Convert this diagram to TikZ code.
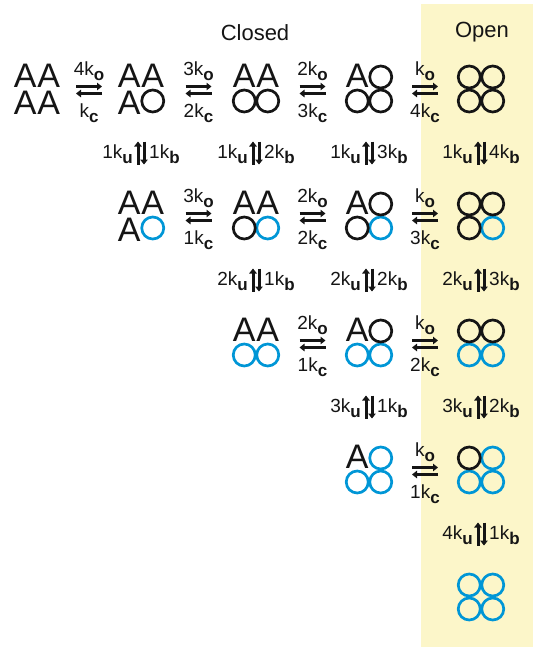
\documentclass[tikz,border=0pt]{standalone}
\usepackage{fontspec}
\setmainfont{Liberation Sans}
\usetikzlibrary{arrows.meta,calc}
\definecolor{Ink}{HTML}{151515}
\definecolor{BoundBlue}{HTML}{0096D6}
\definecolor{OpenPane}{HTML}{FCF6C9}
\newcommand{\rate}[2]{#1k\raisebox{-5pt}{\fontsize{17}{17}\selectfont\bfseries #2}}
\tikzset{
 statebox/.style={minimum width=48pt, minimum height=50pt, inner sep=0pt},
 closedsite/.style={inner sep=0pt, text=Ink, font=\fontsize{34}{34}\selectfont},
 opensite/.style={circle, draw=Ink, line width=2.7pt, minimum size=22pt, inner sep=0pt},
 boundsite/.style={opensite, draw=BoundBlue},
 fwd/.style={-{Triangle[length=5pt,width=7.5pt]}, line width=3pt, draw=Ink},
 ratelabel/.style={inner sep=0pt, text=Ink, font=\fontsize{19}{19}\selectfont},
 title/.style={inner sep=0pt, text=Ink, font=\fontsize{22}{22}\selectfont, anchor=base}
}

\begin{document}
\begin{tikzpicture}[x=1pt,y=-1pt]
\useasboundingbox (0,0) rectangle (533,649);
\fill[OpenPane] (421,4) rectangle (533,647);
\node[title] (closed) at (255,40) {Closed};
\node[title] (open) at (482,37) {Open};
% states: row = bound subunits, column = subunits out of A
\foreach \bnd in {0,...,4}{
 \foreach \col in {\bnd,...,4}{
  \pgfmathsetmacro\colx{{37,141,256,369,481}[\col]}
  \node[statebox] (s\bnd\col) at (\colx,89+127*\bnd) {};
  \foreach \site/\dx/\dy in {0/1/1,1/-1/1,2/1/-1,3/-1/-1}{
   \ifnum\site<\bnd
    \node[boundsite] (s\bnd\col-\site) at ($(s\bnd\col)+(\dx*11.75,\dy*12)$) {};
   \else\ifnum\site<\col
    \node[opensite] (s\bnd\col-\site) at ($(s\bnd\col)+(\dx*11.75,\dy*12)$) {};
   \else
    \node[closedsite] (s\bnd\col-\site) at ($(s\bnd\col)+(\dx*11.75,\dy*13.5)$) {A};
   \fi\fi
  }
 }
}
% opening / closing steps
\foreach \bnd/\col/\fw/\bw in {0/0/4/,0/1/3/2,0/2/2/3,0/3//4,1/1/3/1,1/2/2/2,1/3//3,2/2/2/1,2/3//2,3/3//1}{
 \pgfmathtruncatemacro\nxt{\col+1}
 \coordinate (h\bnd\col) at ($(s\bnd\col)!0.5!(s\bnd\nxt)+(0,1)$);
 \draw[fwd] ($(h\bnd\col)+(-13,-3.5)$) -- ($(h\bnd\col)+(13,-3.5)$);
 \draw[fwd] ($(h\bnd\col)+(13,3.5)$) -- ($(h\bnd\col)+(-13,3.5)$);
 \node[ratelabel, anchor=base] (ko\bnd\col) at ($(h\bnd\col)+(0,-15)$) {\rate{\fw}{o}};
 \node[ratelabel, anchor=base] (kc\bnd\col) at ($(h\bnd\col)+(0,27)$) {\rate{\bw}{c}};
}
% binding / unbinding steps
\foreach \bnd/\col in {0/1,0/2,0/3,0/4,1/2,1/3,1/4,2/3,2/4,3/4}{
 \pgfmathtruncatemacro\dwn{\bnd+1}
 \pgfmathtruncatemacro\nb{\col-\bnd}
 \coordinate (v\bnd\col) at ($(s\bnd\col)!0.5!(s\dwn\col)$);
 \draw[fwd] ($(v\bnd\col)+(-3,12)$) -- ($(v\bnd\col)+(-3,-11)$);
 \draw[fwd] ($(v\bnd\col)+(3,-11)$) -- ($(v\bnd\col)+(3,12)$);
 \node[ratelabel, anchor=base east] (ku\bnd\col) at ($(v\bnd\col)+(-8,5.5)$) {\rate{\dwn}{u}};
 \node[ratelabel, anchor=base west] (kb\bnd\col) at ($(v\bnd\col)+(8,5.5)$) {\rate{\nb}{b}};
}
\end{tikzpicture}
\end{document}
